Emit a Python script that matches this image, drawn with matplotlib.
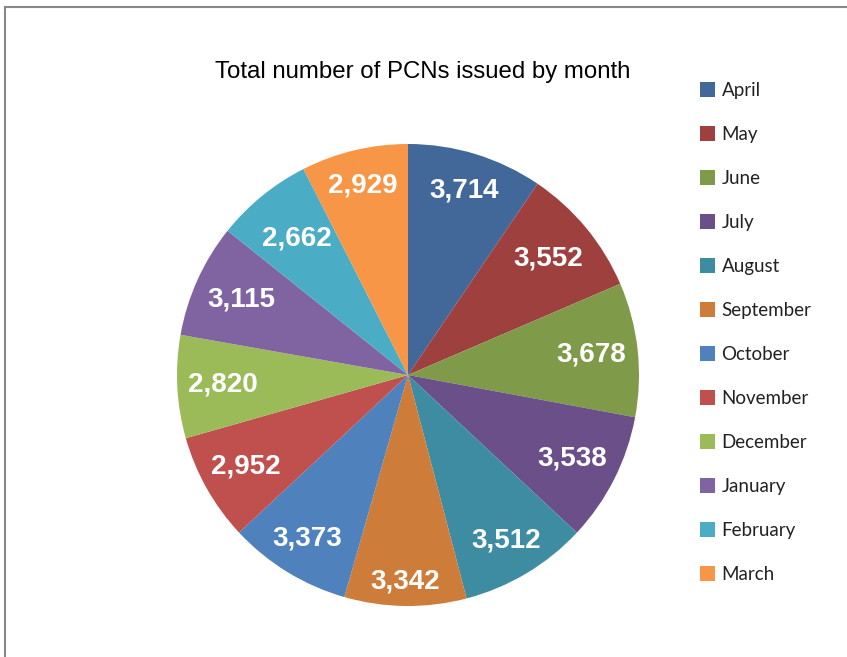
import numpy as np
import matplotlib.pyplot as plt
from matplotlib.lines import Line2D

months = ["April", "May", "June", "July", "August", "September",
          "October", "November", "December", "January", "February", "March"]
pcns = [3714, 3552, 3678, 3538, 3512, 3342, 3373, 2952, 2820, 3115, 2662, 2929]
colors = ["#416899", "#9E413E", "#7F9A48", "#6A4F89", "#3D8CA2", "#CE7C39",
          "#4F81BD", "#C0504D", "#9BBB59", "#8064A2", "#4BACC6", "#F79646"]
# radial position of each data label (fraction of radius), as Excel placed them
label_dist = [0.835, 0.79, 0.796, 0.798, 0.832, 0.892,
              0.832, 0.806, 0.803, 0.793, 0.76, 0.845]

W, H = 847, 657
fig = plt.figure(figsize=(W / 100, H / 100), dpi=100)

# pie centre and radius in pixels
cx, cy, r = 408, 375, 231
ax = fig.add_axes([(cx - r) / W, (H - cy - r) / H, 2 * r / W, 2 * r / H])

wedges, _ = ax.pie(pcns, colors=colors, startangle=90, counterclock=False,
                   radius=1, wedgeprops=dict(linewidth=0))
for w, v, d in zip(wedges, pcns, label_dist):
    ang = np.deg2rad((w.theta1 + w.theta2) / 2)
    ax.text(d * np.cos(ang), d * np.sin(ang), f"{v:,}", ha="center", va="center",
            color="white", fontsize=20, fontweight="bold", family="Liberation Sans")
ax.set_xlim(-1, 1)
ax.set_ylim(-1, 1)
ax.set_aspect("equal")
ax.axis("off")

fig.text(423 / W, 1 - 72 / H, "Total number of PCNs issued by month",
         ha="center", va="center", fontsize=17.3, family="Liberation Sans")

leg = fig.legend(wedges, months, loc="upper left",
                 bbox_to_anchor=(700 / W, 1 - 82 / H), frameon=False,
                 handlelength=0.8, handleheight=0.8, handletextpad=0.35,
                 labelspacing=1.44, borderaxespad=0, borderpad=0,
                 prop=dict(family="Lato", size=13.5))
for txt in leg.get_texts():
    txt.set_color("#222222")

# chart-area border (top and left edges visible)
fig.add_artist(Line2D([4.5 / W, 1], [1 - 6.5 / H, 1 - 6.5 / H], color="#888888", lw=1.5))
fig.add_artist(Line2D([4.5 / W, 4.5 / W], [0, 1 - 6.5 / H], color="#888888", lw=1.5))

fig.savefig("out.png", dpi=100)
